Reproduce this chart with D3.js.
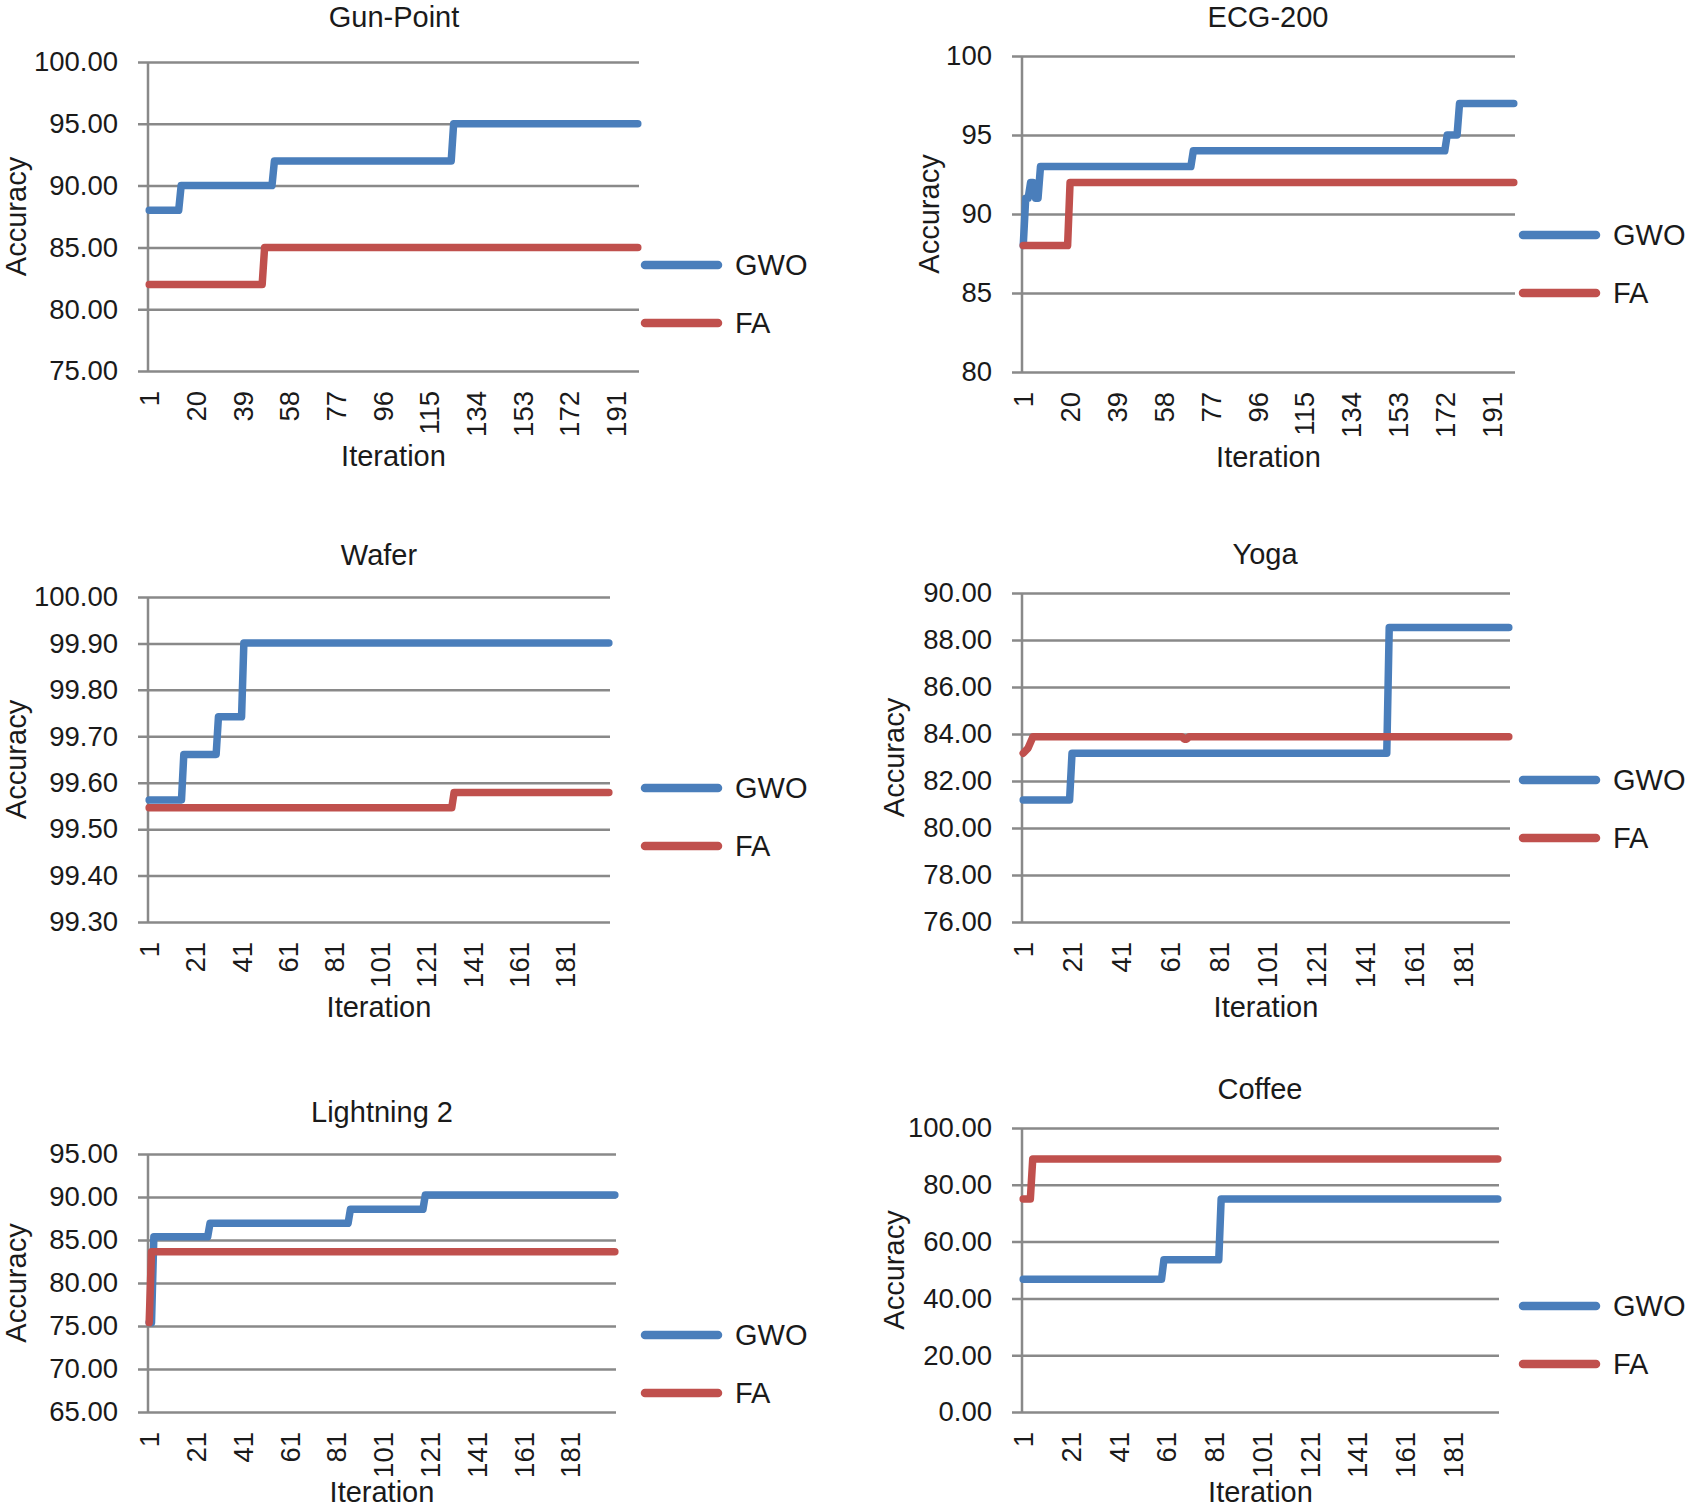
<!DOCTYPE html>
<html>
<head>
<meta charset="utf-8">
<script src="https://cdn.jsdelivr.net/npm/d3@7"></script>
<style>
  body { margin: 0; background: #fff; }
  svg text { font-family: "Liberation Sans", Arial, Helvetica, sans-serif; fill: #1a1a1a; }
</style>
</head>
<body>
<svg id="chart" width="1685" height="1502"></svg>
<script>
// ---- data ----
const seriesNames = ["GWO", "FA"];
const iterTicks19 = [1, 20, 39, 58, 77, 96, 115, 134, 153, 172, 191];
const iterTicks20 = [1, 21, 41, 61, 81, 101, 121, 141, 161, 181];

// Gun-Point
const gunPointYTicks = [75, 80, 85, 90, 95, 100];
const gunPointGwoIter = [1, 13, 14, 51, 52, 124, 125, 200];
const gunPointGwoAcc = [88, 88, 90, 90, 92, 92, 95, 95];
const gunPointFaIter = [1, 47, 48, 200];
const gunPointFaAcc = [82, 82, 85, 85];

// ECG-200
const ecgYTicks = [80, 85, 90, 95, 100];
const ecgGwoIter = [1, 2, 3, 4, 5, 6, 7, 8, 69, 70, 172, 173, 177, 178, 200];
const ecgGwoAcc = [88, 91, 91, 92, 92, 91, 91, 93, 93, 94, 94, 95, 95, 97, 97];
const ecgFaIter = [1, 19, 20, 200];
const ecgFaAcc = [88, 88, 92, 92];

// Wafer
const waferYTicks = [99.3, 99.4, 99.5, 99.6, 99.7, 99.8, 99.9, 100];
const waferGwoIter = [1, 15, 16, 30, 31, 41, 42, 200];
const waferGwoAcc = [99.563, 99.563, 99.661, 99.661, 99.742, 99.742, 99.901, 99.901];
const waferFaIter = [1, 132, 133, 200];
const waferFaAcc = [99.546, 99.546, 99.579, 99.579];

// Yoga
const yogaYTicks = [76, 78, 80, 82, 84, 86, 88, 90];
const yogaGwoIter = [1, 20, 21, 150, 151, 200];
const yogaGwoAcc = [81.19, 81.19, 83.18, 83.18, 88.53, 88.53];
const yogaFaIter = [1, 3, 5, 66, 67, 68, 69, 200];
const yogaFaAcc = [83.18, 83.4, 83.88, 83.88, 83.78, 83.78, 83.88, 83.88];

// Lightning 2
const lightningYTicks = [65, 70, 75, 80, 85, 90, 95];
const lightningGwoIter = [1, 2, 3, 26, 27, 86, 87, 118, 119, 200];
const lightningGwoAcc = [75.4, 75.4, 85.38, 85.38, 86.94, 86.94, 88.57, 88.57, 90.23, 90.23];
const lightningFaIter = [1, 2, 200];
const lightningFaAcc = [75.4, 83.64, 83.64];

// Coffee
const coffeeYTicks = [0, 20, 40, 60, 80, 100];
const coffeeGwoIter = [1, 59, 60, 83, 84, 200];
const coffeeGwoAcc = [46.7, 46.7, 53.6, 53.6, 75.0, 75.0];
const coffeeFaIter = [1, 4, 5, 200];
const coffeeFaAcc = [75.0, 75.0, 89.1, 89.1];

const colors = ["#4a7ebb", "#c0504d"];
const gridColor = "#898989";
const iterCount = 200;

// panel table (layout + data refs)
const panels = [
  { title: "Gun-Point", L: 148, R: 639, T: 62, B: 371, titleX: 394, titleY: 27, accX: 16, legX: 645, legY: [265, 323], iterY: 466,
    yTicks: gunPointYTicks, fmt: ".2f", xTicks: iterTicks19,
    series: [[gunPointGwoIter, gunPointGwoAcc], [gunPointFaIter, gunPointFaAcc]] },
  { title: "ECG-200", L: 1022, R: 1515, T: 56, B: 372, titleX: 1268, titleY: 27, accX: 929, legX: 1523, legY: [235, 293], iterY: 467,
    yTicks: ecgYTicks, fmt: "d", xTicks: iterTicks19,
    series: [[ecgGwoIter, ecgGwoAcc], [ecgFaIter, ecgFaAcc]] },
  { title: "Wafer", L: 148, R: 610, T: 597, B: 922, titleX: 379, titleY: 565, accX: 16, legX: 645, legY: [788, 846], iterY: 1017,
    yTicks: waferYTicks, fmt: ".2f", xTicks: iterTicks20,
    series: [[waferGwoIter, waferGwoAcc], [waferFaIter, waferFaAcc]] },
  { title: "Yoga", L: 1022, R: 1510, T: 593, B: 922, titleX: 1265, titleY: 564, accX: 894, legX: 1523, legY: [780, 838], iterY: 1017,
    yTicks: yogaYTicks, fmt: ".2f", xTicks: iterTicks20,
    series: [[yogaGwoIter, yogaGwoAcc], [yogaFaIter, yogaFaAcc]] },
  { title: "Lightning 2", L: 148, R: 616, T: 1154, B: 1412, titleX: 382, titleY: 1122, accX: 16, legX: 645, legY: [1335, 1393], iterY: 1502,
    yTicks: lightningYTicks, fmt: ".2f", xTicks: iterTicks20,
    series: [[lightningGwoIter, lightningGwoAcc], [lightningFaIter, lightningFaAcc]] },
  { title: "Coffee", L: 1022, R: 1499, T: 1128, B: 1412, titleX: 1260, titleY: 1099, accX: 894, legX: 1523, legY: [1306, 1364], iterY: 1502,
    yTicks: coffeeYTicks, fmt: ".2f", xTicks: iterTicks20,
    series: [[coffeeGwoIter, coffeeGwoAcc], [coffeeFaIter, coffeeFaAcc]] }
];

const svg = d3.select("#chart");

panels.forEach(p => {
  const x = d3.scaleLinear().domain([0.5, iterCount + 0.5]).range([p.L, p.R]);
  const y = d3.scaleLinear().domain(d3.extent(p.yTicks)).range([p.B, p.T]);
  const g = svg.append("g");

  // gridlines + y tick labels
  const yAxis = g.append("g")
    .attr("transform", `translate(${p.L},0)`)
    .call(d3.axisLeft(y).tickValues(p.yTicks).tickFormat(d3.format(p.fmt))
      .tickSize(-(p.R - p.L)).tickPadding(30));
  yAxis.select(".domain").remove();
  yAxis.selectAll(".tick line")
    .attr("x1", -10)
    .attr("stroke", gridColor).attr("stroke-width", 2.5);
  yAxis.selectAll(".tick text")
    .attr("x", -30)
    .style("font-size", "27.5px").attr("fill", "#1a1a1a");

  // vertical axis line
  g.append("line")
    .attr("x1", p.L).attr("x2", p.L).attr("y1", p.T).attr("y2", p.B)
    .attr("stroke", gridColor).attr("stroke-width", 2.5);

  // x tick labels (rotated)
  const xAxis = g.append("g")
    .attr("transform", `translate(0,${p.B})`)
    .call(d3.axisBottom(x).tickValues(p.xTicks).tickSize(0).tickPadding(0));
  xAxis.select(".domain").remove();
  xAxis.selectAll(".tick text")
    .attr("transform", "rotate(-90)")
    .attr("x", -20).attr("y", 0).attr("dy", "0.35em")
    .style("text-anchor", "end")
    .style("font-size", "27.5px").attr("fill", "#1a1a1a");

  // series lines (GWO first, FA on top)
  const line = d3.line().x(d => x(d[0])).y(d => y(d[1]));
  p.series.forEach((s, i) => {
    const pts = s[0].map((it, k) => [it, s[1][k]]);
    g.append("path")
      .datum(pts)
      .attr("d", line)
      .attr("fill", "none")
      .attr("stroke", colors[i])
      .attr("stroke-width", 7.5)
      .attr("stroke-linejoin", "round")
      .attr("stroke-linecap", "round");
  });

  // titles
  g.append("text")
    .attr("x", p.titleX).attr("y", p.titleY)
    .style("text-anchor", "middle").style("font-size", "29px")
    .text(p.title);

  g.append("text")
    .attr("transform", `translate(${p.accX},${(p.T + p.B) / 2}) rotate(-90)`)
    .attr("dy", "0.35em")
    .style("text-anchor", "middle").style("font-size", "29px")
    .text("Accuracy");

  g.append("text")
    .attr("x", (p.L + p.R) / 2).attr("y", p.iterY)
    .style("text-anchor", "middle").style("font-size", "29px")
    .text("Iteration");

  // legend
  seriesNames.forEach((name, i) => {
    g.append("line")
      .attr("x1", p.legX).attr("x2", p.legX + 73)
      .attr("y1", p.legY[i]).attr("y2", p.legY[i])
      .attr("stroke", colors[i]).attr("stroke-width", 8.5)
      .attr("stroke-linecap", "round");
    g.append("text")
      .attr("x", p.legX + 90).attr("y", p.legY[i]).attr("dy", "0.35em")
      .style("font-size", "29px")
      .text(name);
  });
});
</script>
</body>
</html>
